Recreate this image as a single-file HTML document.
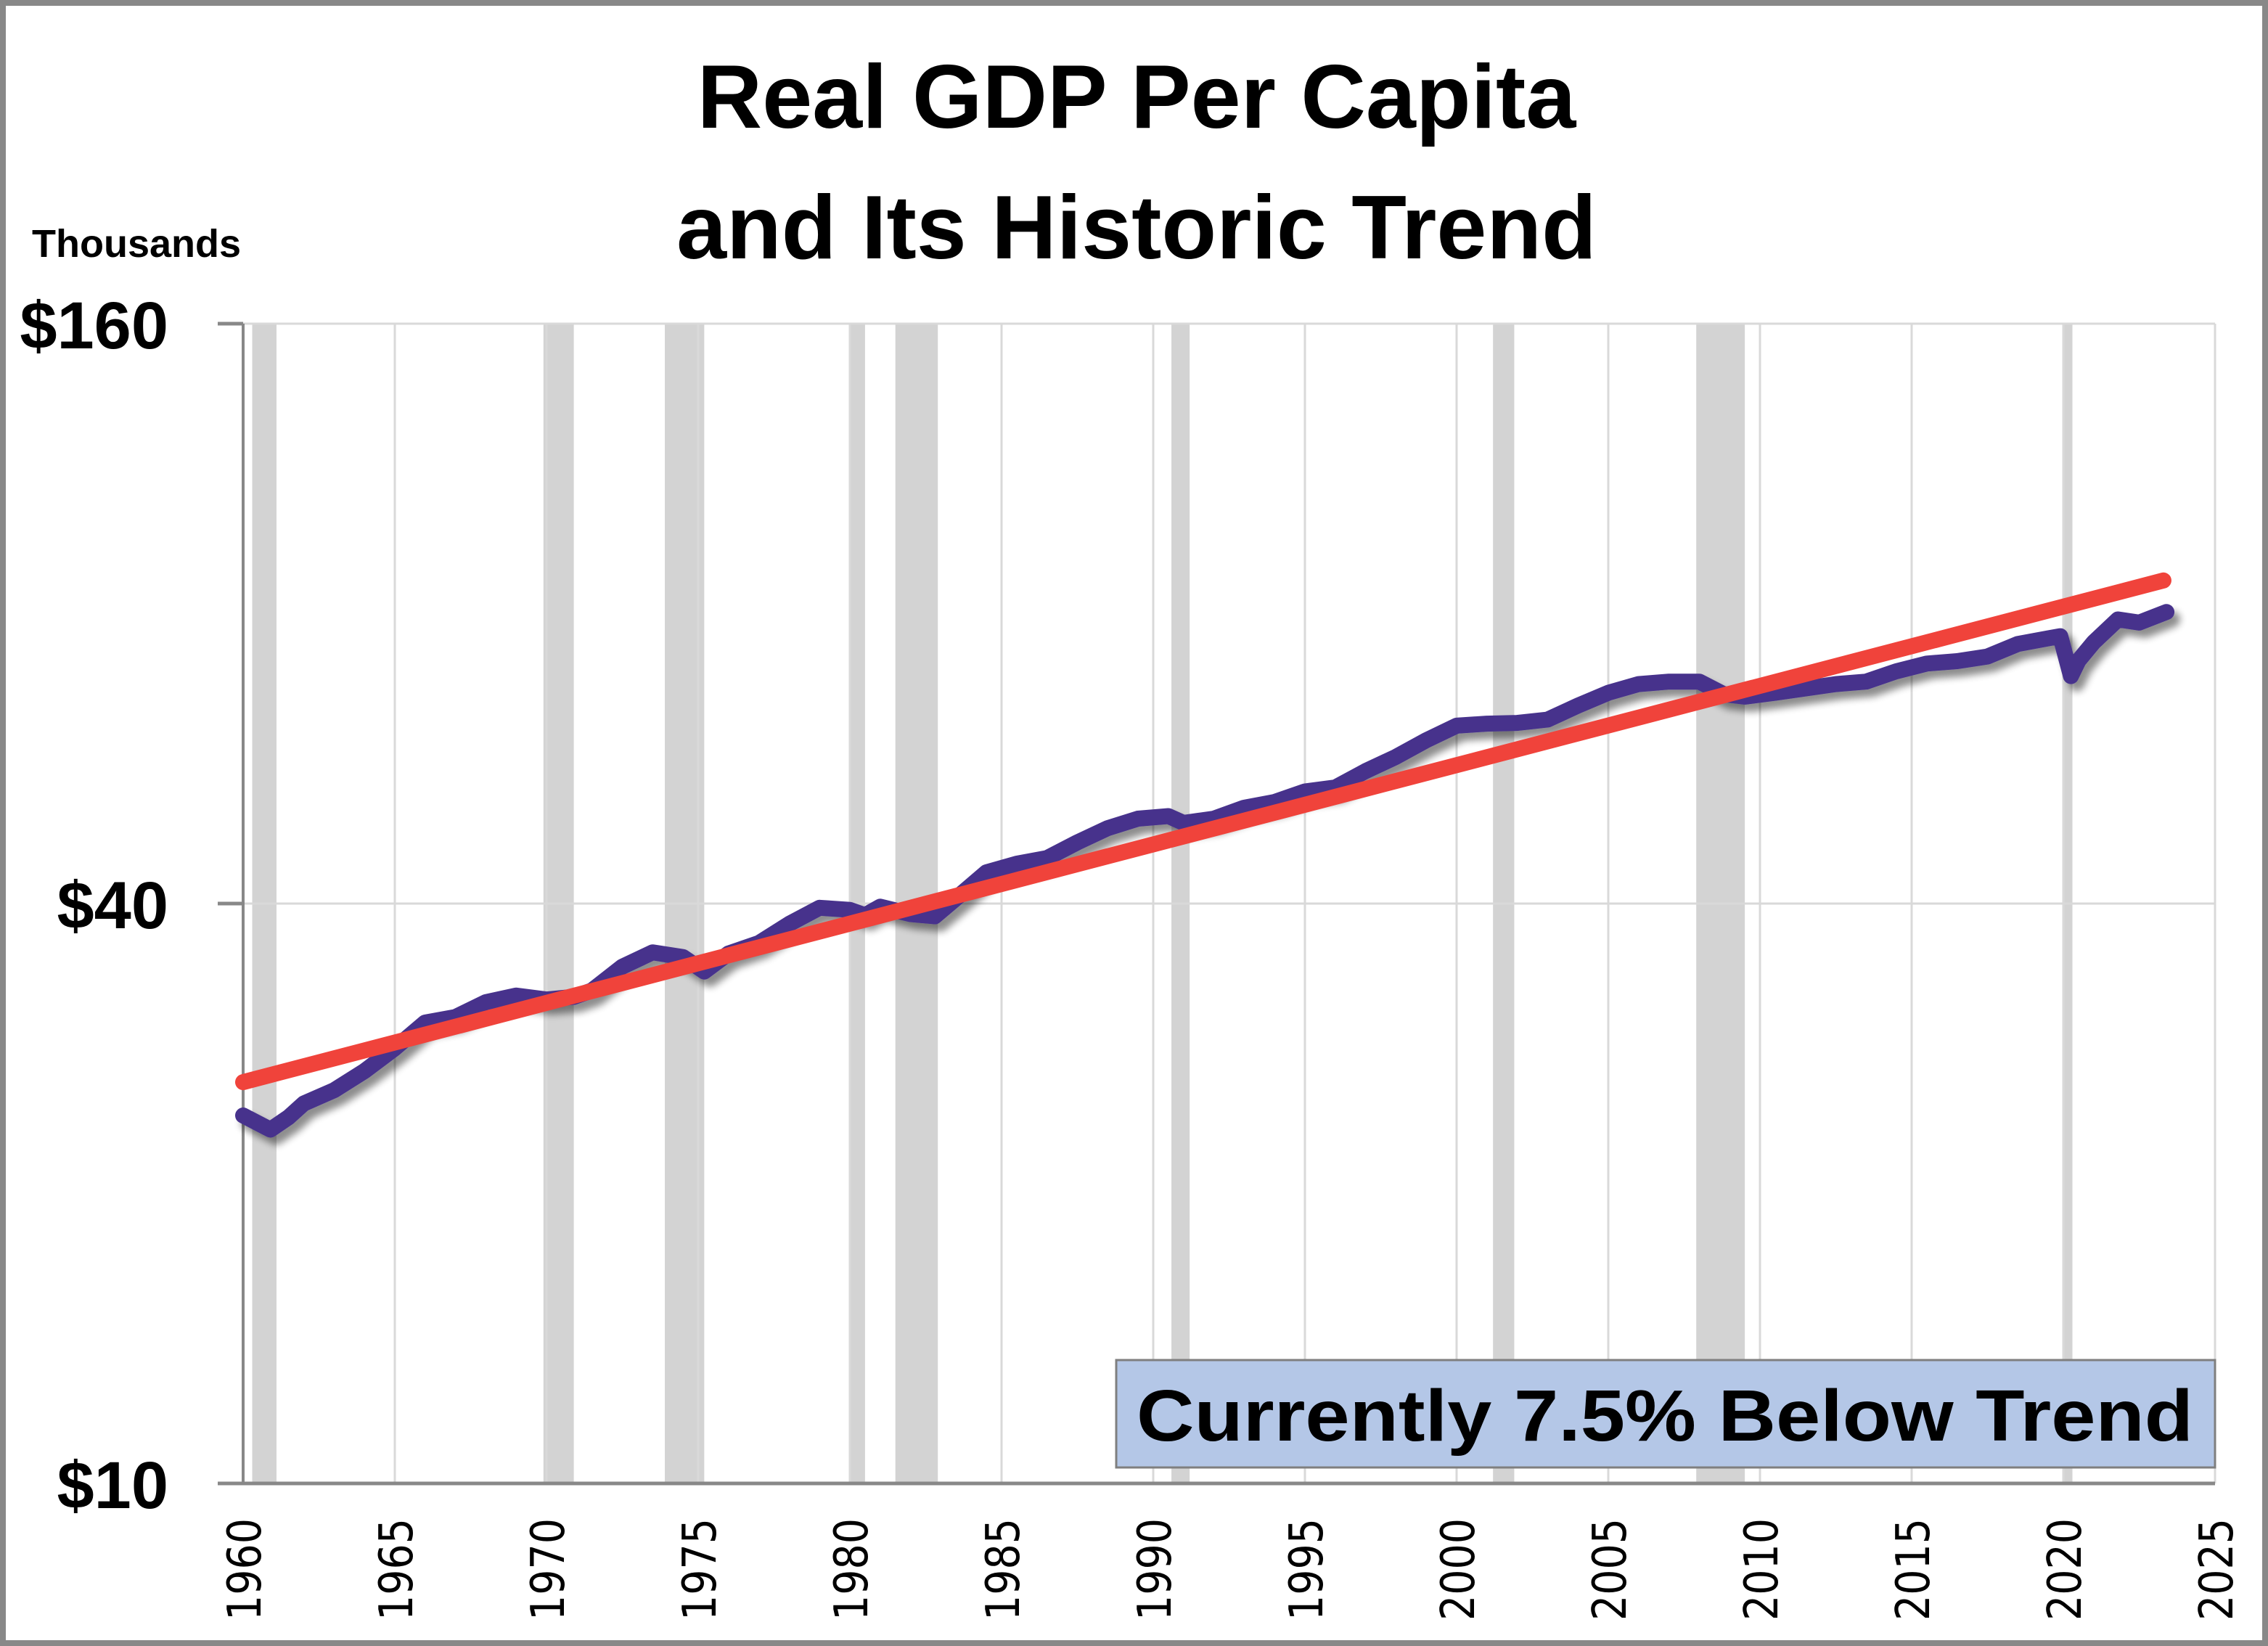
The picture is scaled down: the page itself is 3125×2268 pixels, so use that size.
<!DOCTYPE html>
<html><head><meta charset="utf-8">
<style>
html,body{margin:0;padding:0;background:#fff;}
svg{display:block;}
</style></head>
<body>
<svg id="chart" width="3125" height="2268" viewBox="0 0 3125 2268" xmlns="http://www.w3.org/2000/svg">
<defs>
<filter id="shadow" x="-5%" y="-5%" width="110%" height="120%">
<feGaussianBlur in="SourceAlpha" stdDeviation="5"/>
<feOffset dx="8" dy="10" result="o"/>
<feComponentTransfer><feFuncA type="linear" slope="0.45"/></feComponentTransfer>
<feMerge><feMergeNode/><feMergeNode in="SourceGraphic"/></feMerge>
</filter>
</defs>
<rect x="4" y="4" width="3117" height="2260" fill="#fff" stroke="#888" stroke-width="8"/>
<g id="bands"></g>
<g id="grid"></g>
<g id="axes"></g>
<g id="series"></g>
<text x="1566" y="176" text-anchor="middle" font-family="Liberation Sans, sans-serif" font-weight="bold" font-size="124" fill="#000">Real GDP Per Capita</text>
<text x="1566" y="356" text-anchor="middle" font-family="Liberation Sans, sans-serif" font-weight="bold" font-size="124" fill="#000">and Its Historic Trend</text>
<text x="44" y="354" font-family="Liberation Sans, sans-serif" font-weight="bold" font-size="54" fill="#000">Thousands</text>
<g>
<rect x="1538" y="1874" width="1514" height="148" fill="#b4c7e7" stroke="#7f7f7f" stroke-width="3"/>
<text x="1566" y="1985" font-family="Liberation Sans, sans-serif" font-weight="bold" font-size="100" fill="#000" textLength="1456" lengthAdjust="spacingAndGlyphs">Currently 7.5% Below Trend</text>
</g>
</svg>
<script>
const xTicks=[1960,1965,1970,1975,1980,1985,1990,1995,2000,2005,2010,2015,2020,2025];
const yTicks=[10,40,160];
const yTickLabels=["$10","$40","$160"];
const recStart=[1960.3,1969.9,1973.9,1980.0,1981.5,1990.6,2001.2,2007.9,2020.0];
const recEnd=[1961.1,1970.9,1975.2,1980.5,1982.9,1991.2,2001.9,2009.5,2020.3];
const gdpYears=[1960,1960.9,1961.5,1962,1963,1964,1965,1966,1967,1968,1969,1970,1970.9,1971.5,1972.5,1973.5,1974.5,1975.2,1976,1977,1978,1979,1980,1980.5,1981,1982,1982.8,1983.5,1984.5,1985.5,1986.5,1987.5,1988.5,1989.5,1990.5,1991,1992,1993,1994,1995,1996,1997,1998,1999,2000,2001,2002,2003,2004,2005,2006,2007,2008,2008.8,2009.5,2010.5,2011.5,2012.5,2013.5,2014.5,2015.5,2016.5,2017.5,2018.5,2019.5,2019.9,2020.25,2020.5,2021,2021.8,2022.5,2023.4];
const gdpValues=[24.1,23.3,24.0,24.8,25.6,26.8,28.3,30.1,30.5,31.6,32.1,31.8,32.0,32.5,34.4,35.6,35.2,34.0,35.5,36.4,38.1,39.6,39.4,38.9,39.7,39.0,38.8,40.5,43.1,44.0,44.6,46.3,47.9,49.0,49.3,48.5,49.0,50.3,51.0,52.3,52.8,54.9,56.8,59.1,61.2,61.5,61.6,62.1,64.2,66.2,67.6,68.0,68.0,66.0,65.6,66.2,66.9,67.6,68.0,69.7,71.0,71.4,72.2,74.4,75.4,75.8,68.9,71.5,74.7,78.9,78.3,80.3];
const trendYears=[1960,2023.3];
const trendValues=[26.1,86.6];

const NS="http://www.w3.org/2000/svg";
const L=335,R=3052,T=446,B=2044;
function xs(y){return L+(y-1960)/(2025-1960)*(R-L);}
function ys(v){return B-Math.log(v/10)/Math.log(16)*(B-T);}
function mk(tag,attrs,parent){const e=document.createElementNS(NS,tag);for(const k in attrs)e.setAttribute(k,attrs[k]);parent.appendChild(e);return e;}
const bands=document.getElementById('bands'),grid=document.getElementById('grid'),axes=document.getElementById('axes'),series=document.getElementById('series'),svg=document.getElementById('chart');
recStart.forEach((s,i)=>{
  const r=mk('rect',{x:xs(s),y:T,width:xs(recEnd[i])-xs(s),height:B-T,fill:'#d3d3d3'},bands);
  
  
});
xTicks.forEach(t=>{
  if(t>1960){const g=mk('line',{x1:xs(t),x2:xs(t),y1:T,y2:B,stroke:'#d9d9d9','stroke-width':3},grid);
  
  }
  const tx=mk('text',{x:0,y:0,'font-family':'DejaVu Sans, sans-serif','font-size':64,fill:'#000','text-anchor':'end',textLength:141,lengthAdjust:'spacingAndGlyphs',transform:`translate(${xs(t)+24},2092) rotate(-90)`},svg);
  tx.textContent=t;
  
  
});
yTicks.forEach((v,i)=>{
  const g=mk('line',{x1:300,x2:R,y1:ys(v),y2:ys(v),stroke:v===10?'#888':'#d9d9d9','stroke-width':v===10?5:3},grid);
  
  
  const tk=mk('line',{x1:300,x2:L,y1:ys(v),y2:ys(v),stroke:'#888','stroke-width':5},axes);
  
  
  const tx=mk('text',{x:232,y:ys(v)+34,'font-family':'Liberation Sans, sans-serif','font-weight':'bold','font-size':92,fill:'#000','text-anchor':'end'},svg);
  tx.textContent=yTickLabels[i];
  
  
});
const ax=mk('line',{x1:L,x2:L,y1:T,y2:B,stroke:'#888','stroke-width':4},axes);


const d=gdpYears.map((y,i)=>(i?'L':'M')+xs(y).toFixed(1)+','+ys(gdpValues[i]).toFixed(1)).join(' ');
const gl=mk('path',{d:d,fill:'none',stroke:'#46338c','stroke-width':22,'stroke-linejoin':'round','stroke-linecap':'round',filter:'url(#shadow)'},series);


const tr=mk('line',{x1:xs(trendYears[0]),y1:ys(trendValues[0]),x2:xs(trendYears[1]),y2:ys(trendValues[1]),stroke:'#f0433b','stroke-width':22,'stroke-linecap':'round'},series);


</script>
</body></html>
